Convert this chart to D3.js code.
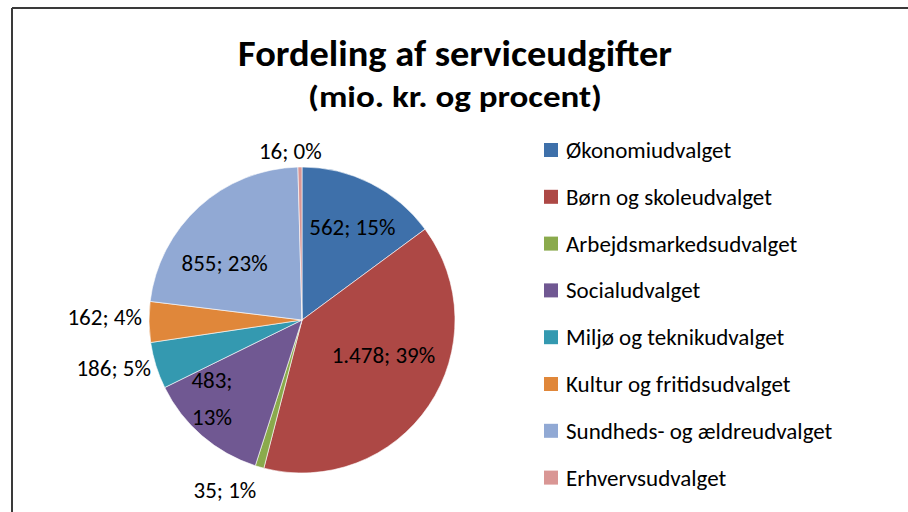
<!DOCTYPE html>
<html>
<head>
<meta charset="utf-8">
<script src="https://cdn.jsdelivr.net/npm/d3@7"></script>
<style>
    body { margin: 0; background: #fff; }
    svg text { font-family: Carlito, "Open Sans", "Noto Sans", sans-serif; fill: #000; }
</style>
</head>
<body>
<div id="chart"></div>
<script>
// data
const categories = ['Økonomiudvalget', 'Børn og skoleudvalget', 'Arbejdsmarkedsudvalget', 'Socialudvalget',
    'Miljø og teknikudvalget', 'Kultur og fritidsudvalget', 'Sundheds- og ældreudvalget', 'Erhvervsudvalget'];
const values = [562, 1478, 35, 483, 186, 162, 855, 16];
const valueLabels = ['562', '1.478', '35', '483', '186', '162', '855', '16'];
const percentLabels = ['15%', '39%', '1%', '13%', '5%', '4%', '23%', '0%'];
const colors = ['#3E70AA', '#AD4845', '#8AAA4C', '#705892', '#3499B0', '#E0873A', '#91A9D4', '#D99694'];

const width = 908, height = 512;
const cx = 302, cy = 320, radius = 153;

// label placement (fraction of radius, angle shift in degrees), tuned by eye
const labelRadius = [0.69, 0.58, 1.22, 0.78, 1.27, 1.29, 0.63, 1.11];
const labelShift = [1.7, -10.6, 8.3, 8.2, 3.1, 1.6, -11.2, -3.2];

const svg = d3.select('#chart').append('svg')
    .attr('width', width)
    .attr('height', height);

// frame (left and top edges only show)
svg.append('line').attr('x1', 12).attr('y1', 8).attr('x2', 908).attr('y2', 8)
    .attr('stroke', '#3a3a3a').attr('stroke-width', 2);
svg.append('line').attr('x1', 12).attr('y1', 8).attr('x2', 12).attr('y2', 512)
    .attr('stroke', '#3a3a3a').attr('stroke-width', 2);

// titles
svg.append('text')
    .attr('x', 455).attr('y', 66)
    .attr('text-anchor', 'middle')
    .attr('font-size', 36).attr('font-weight', 'bold')
    .attr('textLength', 434).attr('lengthAdjust', 'spacingAndGlyphs')
    .text('Fordeling af serviceudgifter');
svg.append('text')
    .attr('x', 455).attr('y', 107)
    .attr('text-anchor', 'middle')
    .attr('font-size', 30).attr('font-weight', 'bold')
    .attr('textLength', 294).attr('lengthAdjust', 'spacingAndGlyphs')
    .text('(mio. kr. og procent)');

const pie = d3.pie().sort(null).value(d => d.value);
const arc = d3.arc().innerRadius(0).outerRadius(radius);

const data = categories.map((c, i) => ({
    name: c, value: values[i], label: valueLabels[i] + '; ' + percentLabels[i], color: colors[i]
}));
const arcs = pie(data);

const g = svg.append('g').attr('transform', 'translate(' + cx + ',' + cy + ')');

g.selectAll('path.slice')
    .data(arcs)
    .enter()
    .append('path')
    .attr('class', 'slice')
    .attr('d', arc)
    .attr('fill', d => d.data.color)
    .attr('stroke', '#fff')
    .attr('stroke-width', 0.6);

arcs.forEach(function (d, i) {
    const a = (d.startAngle + d.endAngle) / 2 + labelShift[i] * Math.PI / 180;
    const r = radius * labelRadius[i];
    const x = Math.sin(a) * r, y = -Math.cos(a) * r;
    const lines = (i === 3) ? [valueLabels[i] + ';', percentLabels[i]] : [d.data.label];
    const t = g.append('text')
        .attr('font-size', 23)
        .attr('text-anchor', 'middle');
    lines.forEach(function (l, k) {
        t.append('tspan')
            .attr('x', x)
            .attr('y', y + (k - (lines.length - 1) / 2) * 37)
            .attr('dy', '0.35em')
            .text(l);
    });
});

// legend
const legend = svg.append('g').attr('transform', 'translate(544, 150)');
const rows = legend.selectAll('g.item')
    .data(data)
    .enter()
    .append('g')
    .attr('class', 'item')
    .attr('transform', (d, i) => 'translate(0,' + (i * 46.8) + ')');
rows.append('rect')
    .attr('x', 0).attr('y', -7)
    .attr('width', 14).attr('height', 14)
    .attr('fill', d => d.color);
rows.append('text')
    .attr('x', 22).attr('y', 0)
    .attr('dy', '0.35em')
    .attr('font-size', 23)
    .text(d => d.name);
</script>
</body>
</html>
